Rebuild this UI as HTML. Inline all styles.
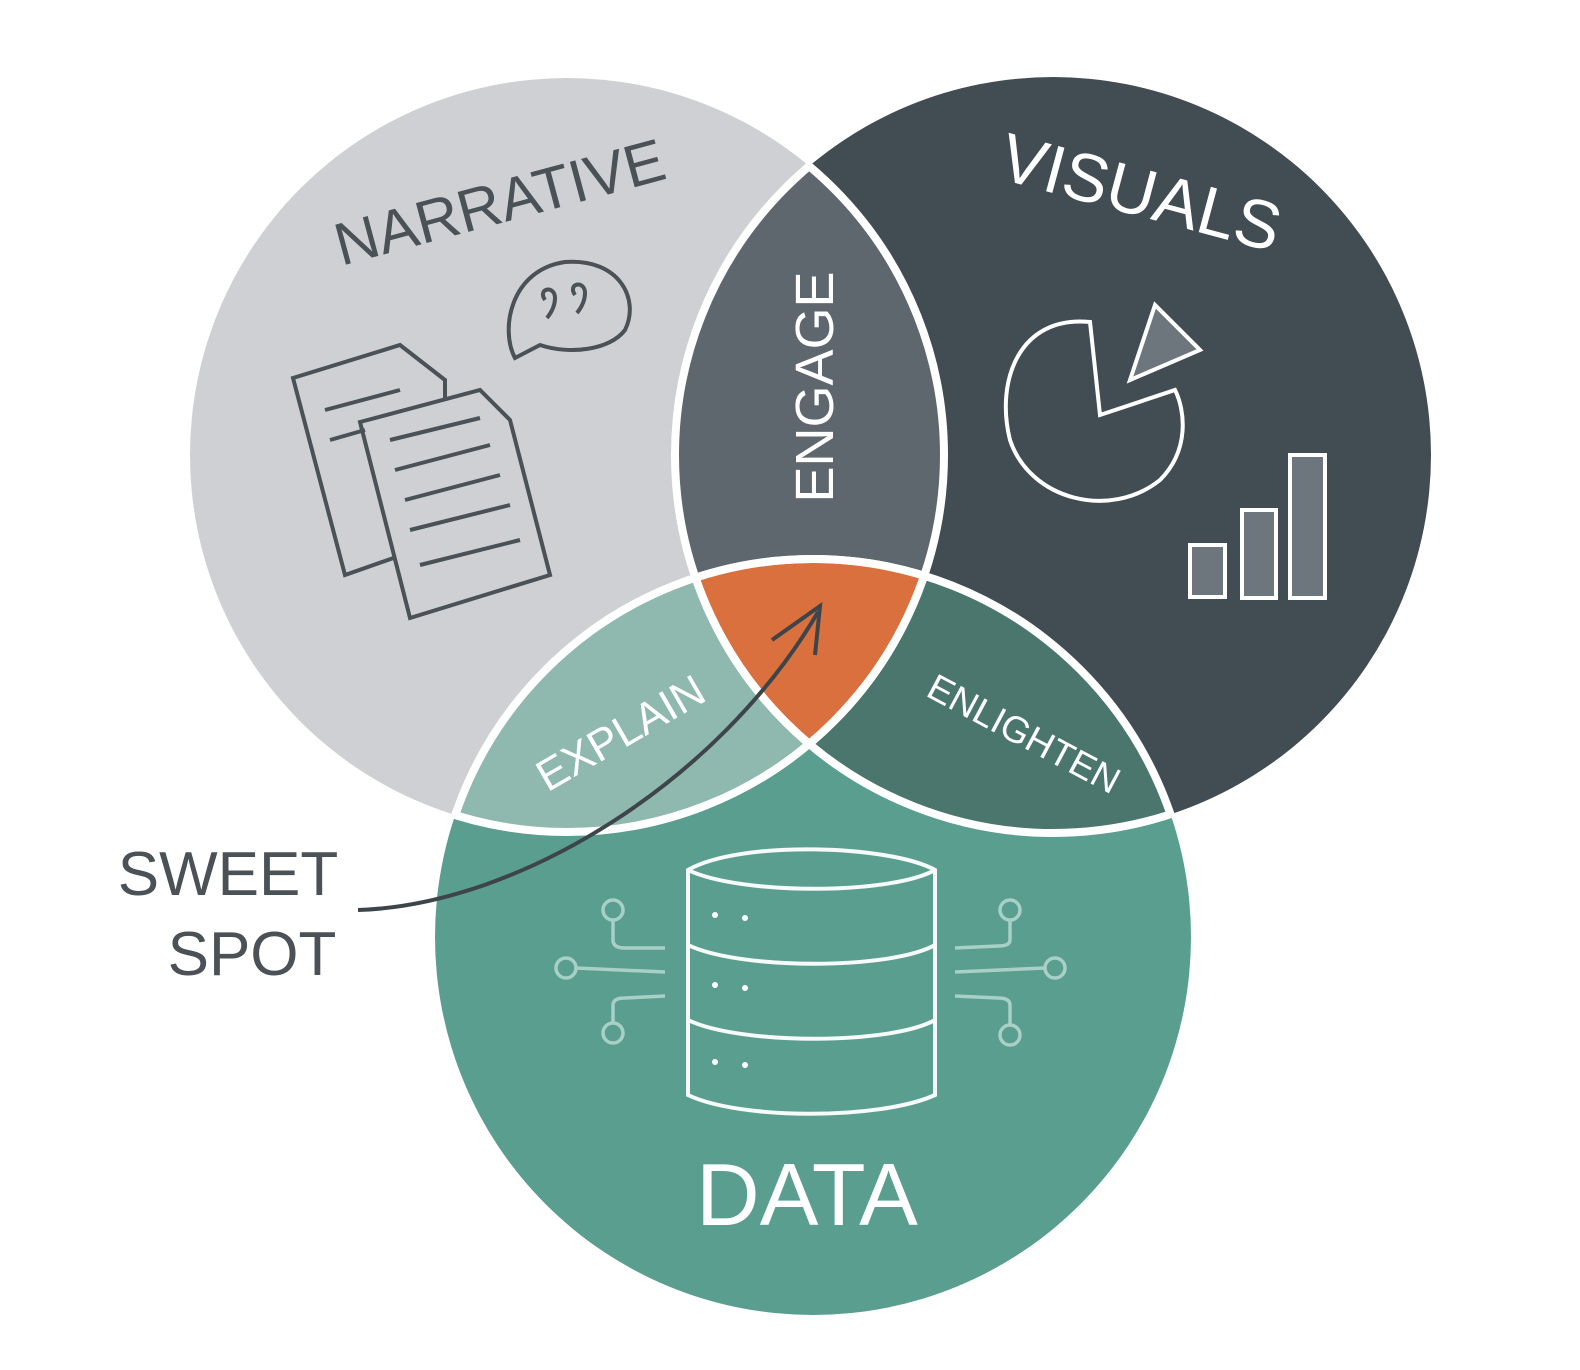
<!DOCTYPE html>
<html><head><meta charset="utf-8"><style>html,body{margin:0;padding:0;background:#fff}svg{display:block}</style></head><body>
<svg width="1580" height="1370" viewBox="0 0 1580 1370" xmlns="http://www.w3.org/2000/svg">
<defs>
<clipPath id="cN"><circle cx="567" cy="455" r="377"/></clipPath>
<clipPath id="cV"><circle cx="1053" cy="455" r="378"/></clipPath>
<clipPath id="cD"><circle cx="813" cy="937" r="378"/></clipPath>
</defs>
<circle cx="567" cy="455" r="377" fill="#cfd0d3"/>
<circle cx="1053" cy="455" r="378" fill="#414c53"/>
<circle cx="813" cy="937" r="378" fill="#5a9e8f"/>
<g clip-path="url(#cN)"><circle cx="1053" cy="455" r="378" fill="#5f676e"/><circle cx="813" cy="937" r="378" fill="#8fb8ae"/></g>
<g clip-path="url(#cV)"><circle cx="813" cy="937" r="378" fill="#4a766e"/></g>
<g clip-path="url(#cN)"><g clip-path="url(#cV)"><circle cx="813" cy="937" r="378" fill="#d9703e"/></g></g>
<g fill="none" stroke="#fff" stroke-width="8">
<g clip-path="url(#cN)"><circle cx="1053" cy="455" r="378"/><circle cx="813" cy="937" r="378"/></g>
<g clip-path="url(#cV)"><circle cx="567" cy="455" r="377"/><circle cx="813" cy="937" r="378"/></g>
<g clip-path="url(#cD)"><circle cx="567" cy="455" r="377"/><circle cx="1053" cy="455" r="378"/></g>
</g>
<g font-family="Liberation Sans, sans-serif" font-weight="normal">
<text x="505" y="222" font-size="60" fill="#4a5157" text-anchor="middle" transform="rotate(-15 505 222)">NARRATIVE</text>
<text x="1135" y="215" font-size="68" fill="#fff" text-anchor="middle" transform="rotate(15 1135 215)">VISUALS</text>
<text x="0" y="0" font-size="54" fill="#fff" text-anchor="middle" transform="translate(833 387) rotate(-90)">ENGAGE</text>
<text x="0" y="0" font-size="44" fill="#fff" text-anchor="middle" transform="translate(628 746) rotate(-30)">EXPLAIN</text>
<text x="0" y="0" font-size="37" fill="#fff" text-anchor="middle" transform="translate(1018 745) rotate(28)">ENLIGHTEN</text>
<text x="807" y="1225" font-size="88" fill="#fff" text-anchor="middle">DATA</text>
<text x="228" y="895" font-size="62" fill="#4a5157" text-anchor="middle">SWEET</text>
<text x="252" y="975" font-size="62" fill="#4a5157" text-anchor="middle">SPOT</text>
</g>
<path d="M358 910 C520 905 720 780 818 612" fill="none" stroke="#3d454b" stroke-width="4"/>
<path d="M772 640 L820 606 L815 655" fill="none" stroke="#3d454b" stroke-width="4"/>
<g fill="none" stroke="#4a5157" stroke-width="4">
<path d="M293 378 L400 345 L445 380 L445 540 L345 575 Z" fill="#cfd0d3"/>
<path d="M360 422 L480 390 L510 420 L550 575 L410 618 Z" fill="#cfd0d3"/>
<path d="M390 440 L480 418 M395 470 L490 445 M405 500 L500 475 M410 530 L510 505 M420 565 L520 540"/>
<path d="M325 410 L400 390 M330 440 L365 430"/>
<path d="M515 358 C500 330 510 270 565 262 C620 258 640 300 625 330 C610 350 570 355 540 345 Z"/>
<path d="M545 300 c-8 -12 10 -15 10 -2 c0 8 -4 15 -8 20 M575 295 c-8 -12 10 -15 10 -2 c0 8 -4 15 -8 20"/>
</g>
<g fill="none" stroke="#fff" stroke-width="4">
<path d="M1090 322 C1020 315 995 380 1010 440 C1030 500 1110 520 1160 480 C1190 450 1185 410 1175 390 L1100 415 Z"/>
<path d="M1130 380 L1155 305 L1200 350 Z" fill="#6d767c"/>
<rect x="1190" y="545" width="35" height="52" fill="#6d767c"/>
<rect x="1242" y="510" width="34" height="88" fill="#6d767c"/>
<rect x="1290" y="455" width="35" height="143" fill="#6d767c"/>
</g>
<g fill="none" stroke="#fff" stroke-width="4" opacity="0.95">
<path d="M688 870 C740 840 890 845 935 870 L935 1095 C880 1120 740 1120 688 1095 Z"/>
<path d="M688 870 C740 895 890 895 935 870"/>
<path d="M688 945 C740 970 890 970 935 945 M688 1020 C740 1045 890 1045 935 1020"/>
</g>
<g fill="#fff"><circle cx="715" cy="915" r="3"/><circle cx="745" cy="918" r="3"/><circle cx="715" cy="985" r="3"/><circle cx="745" cy="988" r="3"/><circle cx="715" cy="1062" r="3"/><circle cx="745" cy="1065" r="3"/></g>
<g fill="none" stroke="#a8d0c6" stroke-width="3.5">
<circle cx="613" cy="910" r="10"/><path d="M613 920 L613 940 Q613 948 625 948 L665 948"/>
<circle cx="566" cy="968" r="10"/><path d="M576 968 L665 972"/>
<circle cx="613" cy="1033" r="10"/><path d="M613 1023 L613 1005 Q613 998 625 998 L665 996"/>
<circle cx="1010" cy="910" r="10"/><path d="M1010 920 L1010 940 Q1010 946 998 946 L955 948"/>
<circle cx="1055" cy="968" r="10"/><path d="M1045 968 L955 972"/>
<circle cx="1010" cy="1035" r="10"/><path d="M1010 1025 L1010 1005 Q1010 998 998 998 L955 996"/>
</g>
</svg>
</body></html>
